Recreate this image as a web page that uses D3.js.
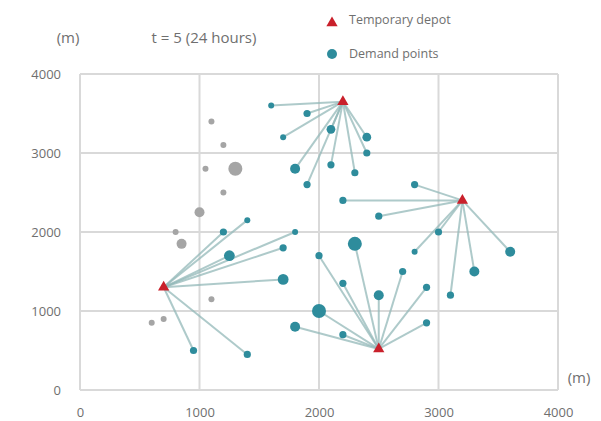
<!DOCTYPE html>
<html>
<head>
<meta charset="utf-8">
<script src="https://cdn.jsdelivr.net/npm/d3@7"></script>
<style>
  body { margin: 0; background: #fff; }
  svg text { font-family: "Open Sans", "DejaVu Sans", sans-serif; fill: #6f6f6f; }
</style>
</head>
<body>
<svg id="canvas" width="601" height="421"></svg>
<script>
// depots (temporary)
const depotX = [2200, 3200, 700, 2500];
const depotY = [3650, 2400, 1300, 520];

// demand points, each linked to a depot
const demandX = [1600, 1900, 1700, 2100, 2400, 2400, 1800, 2100, 2300, 1900,
                 2800, 2200, 2500, 3000, 2800, 3600, 3300, 3100,
                 2300, 2000, 2700, 2200, 2500, 2900, 2000, 1800, 2200, 2900,
                 1400, 1200, 1800, 1700, 1250, 1700, 950, 1400];
const demandY = [3600, 3500, 3200, 3300, 3200, 3000, 2800, 2850, 2750, 2600,
                 2600, 2400, 2200, 2000, 1750, 1750, 1500, 1200,
                 1850, 1700, 1500, 1350, 1200, 1300, 1000, 800, 700, 850,
                 2150, 2000, 2000, 1800, 1700, 1400, 500, 450];
const demandSize = [1, 1.3, 1, 1.7, 1.7, 1.3, 2, 1.3, 1.3, 1.3,
                    1.3, 1.3, 1.3, 1.3, 1, 2, 2, 1.3,
                    3, 1.3, 1.3, 1.3, 2, 1.3, 3, 2, 1.3, 1.3,
                    1, 1.3, 1, 1.3, 2.2, 2.2, 1.3, 1.3];
const demandDepot = [0, 0, 0, 0, 0, 0, 0, 0, 0, 0,
                     1, 1, 1, 1, 1, 1, 1, 1,
                     3, 3, 3, 3, 3, 3, 3, 3, 3, 3,
                     2, 2, 2, 2, 2, 2, 2, 2];

// unserved points (gray)
const otherX = [1100, 1200, 1050, 1300, 1200, 1000, 800, 850, 1100, 700, 600];
const otherY = [3400, 3100, 2800, 2800, 2500, 2250, 2000, 1850, 1150, 900, 850];
const otherSize = [1, 1, 1, 3, 1, 2, 1, 2, 1, 1, 1];

const ticks = [0, 1000, 2000, 3000, 4000];

let canvas = d3.select("#canvas");

let xScale = d3.scaleLinear().domain([0, 4000]).range([80, 558]);
let yScale = d3.scaleLinear().domain([0, 4000]).range([390, 74]);
let rScale = d3.scaleLinear().domain([1, 3]).range([3, 7]);

// grid
canvas.selectAll(".vgrid")
    .data(ticks)
    .enter()
    .append("line")
    .attr("x1", d => xScale(d))
    .attr("x2", d => xScale(d))
    .attr("y1", yScale(0))
    .attr("y2", yScale(4000))
    .attr("stroke", "#d9d9d9")
    .attr("stroke-width", 2);

canvas.selectAll(".hgrid")
    .data(ticks)
    .enter()
    .append("line")
    .attr("x1", xScale(0))
    .attr("x2", xScale(4000))
    .attr("y1", d => yScale(d))
    .attr("y2", d => yScale(d))
    .attr("stroke", "#d9d9d9")
    .attr("stroke-width", 2);

// axes (labels only)
let xAxis = d3.axisBottom(xScale).tickValues(ticks).tickFormat(d3.format("d")).tickSize(0).tickPadding(0);
let yAxis = d3.axisLeft(yScale).tickValues(ticks).tickFormat(d3.format("d")).tickSize(0).tickPadding(0);

canvas.append("g")
    .attr("transform", "translate(0,408)")
    .call(xAxis)
    .call(g => g.select(".domain").remove())
    .selectAll("text")
    .attr("font-size", 13)
    .attr("dy", "0.71em")
    .style("font-family", "'Open Sans', sans-serif")
    .attr("fill", "#7a7a7a");

canvas.append("g")
    .attr("transform", "translate(61,0)")
    .call(yAxis)
    .call(g => g.select(".domain").remove())
    .selectAll("text")
    .attr("font-size", 13)
    .style("font-family", "'Open Sans', sans-serif")
    .attr("fill", "#7a7a7a");

// links
canvas.selectAll(".link")
    .data(demandX)
    .enter()
    .append("line")
    .attr("x1", (d, i) => xScale(demandX[i]))
    .attr("y1", (d, i) => yScale(demandY[i]))
    .attr("x2", (d, i) => xScale(depotX[demandDepot[i]]))
    .attr("y2", (d, i) => yScale(depotY[demandDepot[i]]))
    .attr("stroke", "#93b8b8")
    .attr("stroke-opacity", 0.75)
    .attr("stroke-width", 2);

// gray points
canvas.selectAll(".other")
    .data(otherX)
    .enter()
    .append("circle")
    .attr("cx", (d, i) => xScale(otherX[i]))
    .attr("cy", (d, i) => yScale(otherY[i]))
    .attr("r", (d, i) => rScale(otherSize[i]))
    .attr("fill", "#a5a5a5");

// demand points
canvas.selectAll(".demand")
    .data(demandX)
    .enter()
    .append("circle")
    .attr("cx", (d, i) => xScale(demandX[i]))
    .attr("cy", (d, i) => yScale(demandY[i]))
    .attr("r", (d, i) => rScale(demandSize[i]))
    .attr("fill", "#2e8c9c");

// depots
let tri = d3.symbol().type(d3.symbolTriangle).size(55);
canvas.selectAll(".depot")
    .data(depotX)
    .enter()
    .append("path")
    .attr("d", tri)
    .attr("transform", (d, i) => "translate(" + xScale(depotX[i]) + "," + yScale(depotY[i]) + ")")
    .attr("fill", "#c9202b");

// texts
canvas.append("text").attr("x", 68).attr("y", 43).attr("text-anchor", "middle")
    .attr("font-size", 15).text("(m)");
canvas.append("text").attr("x", 579).attr("y", 383).attr("text-anchor", "middle")
    .attr("font-size", 15).text("(m)");
canvas.append("text").attr("x", 204).attr("y", 43).attr("text-anchor", "middle")
    .attr("font-size", 15).text("t = 5 (24 hours)");

// legend
canvas.append("path").attr("d", tri).attr("transform", "translate(332,23)").attr("fill", "#c9202b");
canvas.append("text").attr("x", 349).attr("y", 24).attr("font-size", 12.5).attr("fill", "#8a8a8a").text("Temporary depot");
canvas.append("circle").attr("cx", 332).attr("cy", 54).attr("r", 5).attr("fill", "#2e8c9c");
canvas.append("text").attr("x", 349).attr("y", 58).attr("font-size", 12.5).attr("fill", "#8a8a8a").text("Demand points");
</script>
</body>
</html>
